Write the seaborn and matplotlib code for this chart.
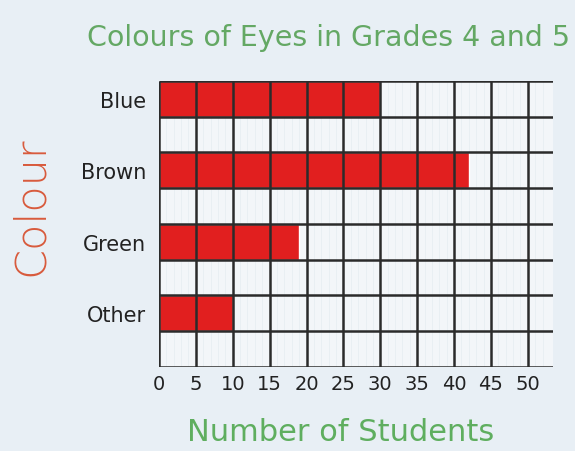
import matplotlib
matplotlib.use("Agg")
import matplotlib.pyplot as plt
import seaborn as sns
import numpy as np

# Eye colour counts for grades 4 and 5
colours = ["Blue", "Brown", "Green", "Other"]
students = [30, 42, 19, 10]
x_ticks = list(range(0, 51, 5))

sns.set_theme(style="white")
plt.rcParams["font.family"] = ["DejaVu Sans"]

fig = plt.figure(figsize=(5.75, 4.52), dpi=100, facecolor="#e8eff5")
ax = fig.add_axes([0.2765, 0.1858, 0.685, 0.6334])
ax.set_facecolor("#f3f6f9")

sns.barplot(x=students, y=colours, orient="h", color="#e11f1f",
            saturation=1, width=0.5, ax=ax, zorder=2)

x_max = 53.4
y_top, y_bot = -0.25, len(colours) - 0.25
ax.set_xlim(0, x_max)
ax.set_ylim(y_bot, y_top)

# faint paper lines
ax.vlines(np.arange(1, 53, 1), y_top, y_bot, color="#e6ecf1", lw=0.5, zorder=1)
# heavy grid drawn over the bars
ax.vlines(x_ticks, y_top, y_bot, color="#2b2b2b", lw=1.8, zorder=3)
ax.hlines(np.arange(y_top, y_bot + 0.01, 0.5), 0, x_max,
          color="#2b2b2b", lw=1.8, zorder=3)

for s in ax.spines.values():
    s.set_visible(False)

ax.set_xticks(x_ticks)
ax.set_xticklabels([str(t) for t in x_ticks])
ax.tick_params(axis="x", length=0, pad=5, labelsize=14, labelcolor="#222222")
ax.tick_params(axis="y", length=0, pad=9, labelsize=15, labelcolor="#222222")

ax.set_xlabel("Number of Students", fontsize=22, color="#5fae5f",
              va="center")
ax.xaxis.set_label_coords(0.462, -0.224)
ax.set_ylabel("Colour", fontsize=31, color="#d85a3c", fontweight="light",
              va="center")
ax.yaxis.set_label_coords(-0.327, 0.566)
fig.text(0.572, 0.915, "Colours of Eyes in Grades 4 and 5", ha="center",
         va="center", fontsize=20.5, color="#64a864")

fig.savefig("out.png", dpi=100, facecolor=fig.get_facecolor())
